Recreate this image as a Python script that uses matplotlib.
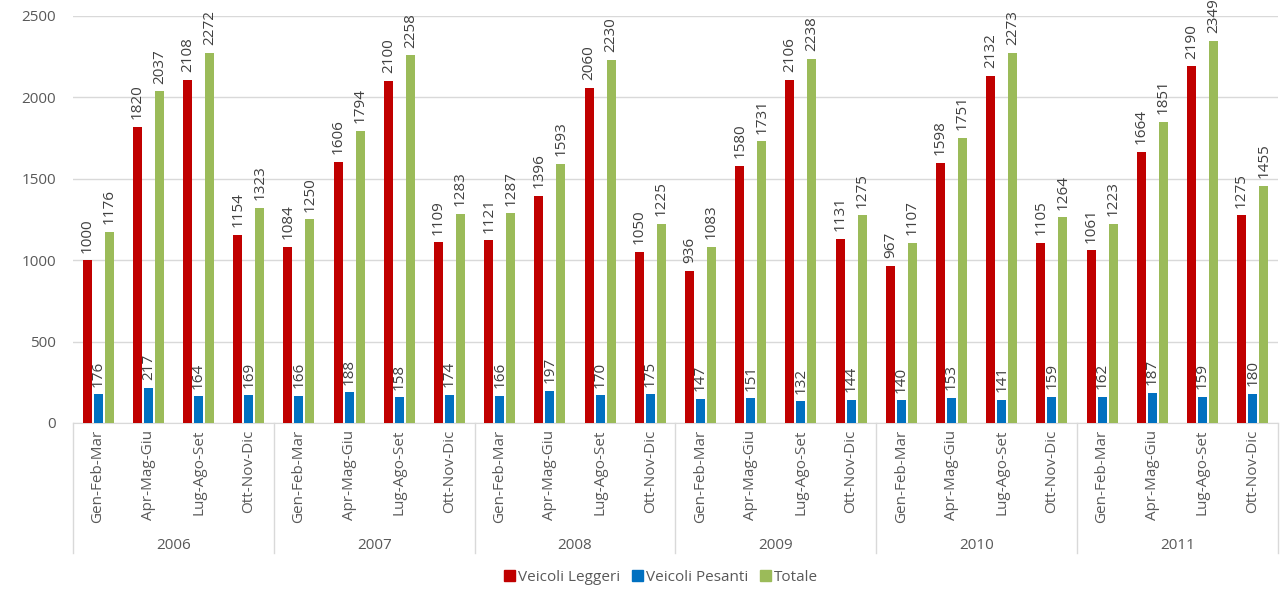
import numpy as np
import matplotlib
matplotlib.use("Agg")
import matplotlib.pyplot as plt
from matplotlib.patches import Patch
import matplotlib.transforms as mtransforms

plt.rcParams['font.family'] = ['Open Sans', 'DejaVu Sans']

# ---------- Data ----------
years = ["2006", "2007", "2008", "2009", "2010", "2011"]
quarters = ["Gen-Feb-Mar", "Apr-Mag-Giu", "Lug-Ago-Set", "Ott-Nov-Dic"]

leggeri = [1000, 1820, 2108, 1154,
           1084, 1606, 2100, 1109,
           1121, 1396, 2060, 1050,
           936, 1580, 2106, 1131,
           967, 1598, 2132, 1105,
           1061, 1664, 2190, 1275]
pesanti = [176, 217, 164, 169,
           166, 188, 158, 174,
           166, 197, 170, 175,
           147, 151, 132, 144,
           140, 153, 141, 159,
           162, 187, 159, 180]
totale = [1176, 2037, 2272, 1323,
          1250, 1794, 2258, 1283,
          1287, 1593, 2230, 1225,
          1083, 1731, 2238, 1275,
          1107, 1751, 2273, 1264,
          1223, 1851, 2349, 1455]

series = [("Veicoli Leggeri", leggeri, "#C00000"),
          ("Veicoli Pesanti", pesanti, "#0070C0"),
          ("Totale", totale, "#9BBB59")]

grey = "#595959"
line_grey = "#D9D9D9"

# ---------- Plot ----------
fig = plt.figure(figsize=(12.81, 5.92), dpi=100)
ax = fig.add_axes([0.057, 0.2855, 0.9405, 0.6875])

x = np.arange(len(leggeri))
width = 0.18
step = 0.22

for i, (name, vals, color) in enumerate(series):
    pos = x + (i - 1) * step
    bars = ax.bar(pos, vals, width=width, color=color, zorder=3)
    for b, v in zip(bars, vals):
        ax.annotate(str(v), (b.get_x() + b.get_width() / 2, b.get_height()),
                    xytext=(0, 5.5), textcoords="offset points",
                    rotation=90, ha="center", va="bottom",
                    fontsize=11, color="#404040")

ax.set_xlim(-0.5, len(x) - 0.5)
ax.set_ylim(0, 2500)
ax.set_yticks(range(0, 2501, 500))
ax.yaxis.grid(True, color=line_grey, linewidth=1, zorder=0)
ax.tick_params(axis="y", length=0, labelsize=11, labelcolor=grey, pad=12)

ax.set_xticks(x)
ax.set_xticklabels(quarters * len(years), rotation=90, fontsize=11, color=grey)
ax.tick_params(axis="x", length=0, pad=5)

for s in ["left", "right", "top"]:
    ax.spines[s].set_visible(False)
ax.spines["bottom"].set_color(line_grey)

# year separators and labels under the axis
trans = mtransforms.blended_transform_factory(ax.transData, ax.transAxes)
for k in range(len(years) + 1):
    xs = k * 4 - 0.5
    ax.plot([xs, xs], [0, -0.319], transform=trans, color=line_grey,
            linewidth=1, clip_on=False)
for k, yr in enumerate(years):
    ax.text(k * 4 + 1.5, -0.30, yr, transform=trans, ha="center",
            va="center", fontsize=11, color=grey)

handles = [Patch(color=c, label=n) for n, _, c in series]
fig.legend(handles=handles, loc="center", bbox_to_anchor=(0.516, 0.025),
           ncol=3, frameon=False, fontsize=11, handlelength=0.7,
           handleheight=0.7, handletextpad=0.2, columnspacing=0.8,
           labelcolor=grey)

fig.savefig("out.png", dpi=100)
